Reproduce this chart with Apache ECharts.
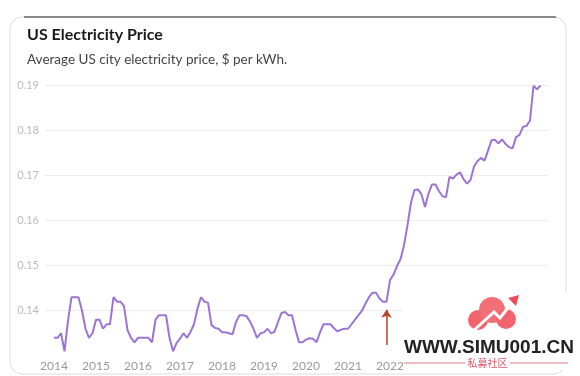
<!DOCTYPE html>
<html>
<head>
<meta charset="utf-8">
<script src="https://cdn.jsdelivr.net/npm/echarts@6/dist/echarts.min.js"></script>
<style>
html,body{margin:0;padding:0;background:#fff;}
#chart{width:580px;height:376px;}
</style>
</head>
<body>
<div id="chart"></div>
<script>
// ---- data ----
const yearLabels = ['2014','2015','2016','2017','2018','2019','2020','2021','2022','2023','2024','2025'];
const yTicks = [0.14, 0.15, 0.16, 0.17, 0.18, 0.19];
// Monthly average US city electricity price ($/kWh), Jan 2014 onward
const prices = [
  0.134,0.134,0.135,0.131,0.1378,0.143,0.143,0.143,0.140,0.136,0.134,0.135,
  0.138,0.138,0.136,0.137,0.137,0.143,0.142,0.142,0.141,0.1357,0.134,0.133,
  0.134,0.134,0.134,0.134,0.133,0.138,0.139,0.139,0.139,0.134,0.131,0.1328,
  0.1338,0.135,0.134,0.1353,0.137,0.1405,0.143,0.142,0.1418,0.1368,0.1362,0.136,
  0.1352,0.1352,0.135,0.1348,0.1375,0.139,0.139,0.1388,0.1376,0.136,0.134,0.135,
  0.1352,0.136,0.135,0.1353,0.1375,0.1395,0.1397,0.139,0.139,0.1358,0.133,0.133,
  0.1336,0.1339,0.1338,0.133,0.1352,0.137,0.137,0.137,0.1361,0.1354,0.1358,0.136,
  0.136,0.137,0.138,0.139,0.140,0.1416,0.143,0.144,0.144,0.1427,0.142,0.142,
  0.1468,0.148,0.1499,0.1514,0.1545,0.159,0.164,0.1668,0.1669,0.1658,0.163,0.166,
  0.168,0.168,0.1665,0.1654,0.1652,0.1697,0.1693,0.1702,0.1707,0.1692,0.1682,0.169,
  0.172,0.1732,0.1739,0.1733,0.1755,0.1778,0.1779,0.1771,0.178,0.177,0.1763,0.176,
  0.1785,0.179,0.1808,0.181,0.1822,0.1899,0.1891,0.190
];
const arrowMonth = 95;          // Jan 2022 marker
const arrowFrom = 0.1324, arrowTo = 0.1402;

const chart = echarts.init(document.getElementById('chart'), null, {renderer:'canvas'});
const seriesData = prices.map((v, i) => [i, v]);
const labelValues = yearLabels.map((y, i) => i * 12);

const WZ = 1000;
const option = {
  backgroundColor: '#fff',
  animation: false,
  title: {
    text: 'US Electricity Price',
    subtext: 'Average US city electricity price, $ per kWh.',
    left: 27, top: 26, itemGap: 8, padding: 0,
    textStyle: {fontFamily: 'Lato', fontWeight: 'bold', fontSize: 16, color: '#1a1a1a', lineHeight: 18},
    subtextStyle: {fontFamily: 'Lato', fontSize: 13.5, color: '#444', lineHeight: 16}
  },
  grid: {left: 45, right: 32, top: 85.3, bottom: 20.2, containLabel: false},
  xAxis: {
    type: 'value', min: -2.57, max: 141.14,
    axisLine: {show: false}, axisTick: {show: false}, splitLine: {show: false},
    axisLabel: {
      customValues: labelValues,
      formatter: v => yearLabels[Math.round(v / 12)] || '',
      color: '#999', fontFamily: 'Lato', fontSize: 12, margin: 4
    }
  },
  yAxis: {
    type: 'value', min: 0.13, max: 0.19, interval: 0.01,
    axisLine: {show: false}, axisTick: {show: false},
    splitLine: {lineStyle: {color: ['rgba(0,0,0,0)', '#ececec', '#ececec', '#ececec', '#ececec', '#ececec', '#ececec'], width: 1}},
    axisLabel: {
      formatter: v => (yTicks.some(t => Math.abs(t - v) < 1e-6) ? v.toFixed(2) : ''),
      color: '#bbb', fontFamily: 'Lato', fontSize: 11, margin: 6
    }
  },
  series: [{
    type: 'line', data: seriesData, showSymbol: false, smooth: false,
    lineStyle: {color: '#9c74d4', width: 2},
    z: 3,
    markLine: {
      silent: true, symbol: ['none', 'arrow'], symbolSize: 8,
      label: {show: false},
      lineStyle: {color: '#b8412a', width: 1.5, type: 'solid'},
      data: [[{coord: [arrowMonth, arrowFrom]}, {coord: [arrowMonth, arrowTo]}]]
    }
  }],
  graphic: [
    {type: 'rect', z: -10, shape: {x: 10, y: 17, width: 556, height: 357, r: 12},
     style: {fill: '#fff', stroke: '#dcdcdc', lineWidth: 1}},
    {type: 'line', z: -9, shape: {x1: 24, y1: 17, x2: 556, y2: 17},
     style: {stroke: '#666', lineWidth: 1.5}},
    // watermark
    {type: 'rect', z: WZ, shape: {x: 403, y: 292, width: 172, height: 78}, style: {fill: '#fff'}},
    {type: 'circle', z: WZ, shape: {cx: 478, cy: 320, r: 10}, style: {fill: '#f0646e'}},
    {type: 'circle', z: WZ, shape: {cx: 492, cy: 310, r: 13}, style: {fill: '#f26f77'}},
    {type: 'circle', z: WZ, shape: {cx: 506, cy: 319, r: 10}, style: {fill: '#f0646e'}},
    {type: 'polyline', z: WZ + 1, shape: {points: [[472, 332], [494, 312], [500, 318], [514, 300]]},
     style: {stroke: '#fff', lineWidth: 3, fill: null}},
    {type: 'polygon', z: WZ + 1, shape: {points: [[508, 298], [519, 295], [516, 306]]}, style: {fill: '#e84b5a'}},
    {type: 'text', z: WZ + 1, style: {text: 'WWW.SIMU001.CN', x: 404, y: 348, verticalAlign: 'middle',
      font: 'bold 19px "Liberation Sans"', fill: '#222'}},
    {type: 'line', z: WZ + 1, shape: {x1: 404, y1: 363, x2: 465, y2: 363}, style: {stroke: '#e27884', lineWidth: 1}},
    {type: 'line', z: WZ + 1, shape: {x1: 510, y1: 363, x2: 568, y2: 363}, style: {stroke: '#e27884', lineWidth: 1}},
    {type: 'text', z: WZ + 1, style: {text: '私募社区', x: 487.5, y: 363, align: 'center', verticalAlign: 'middle',
      font: '10px "Noto Sans CJK SC"', fill: '#e05868'}}
  ]
};
chart.setOption(option);
</script>
</body>
</html>
